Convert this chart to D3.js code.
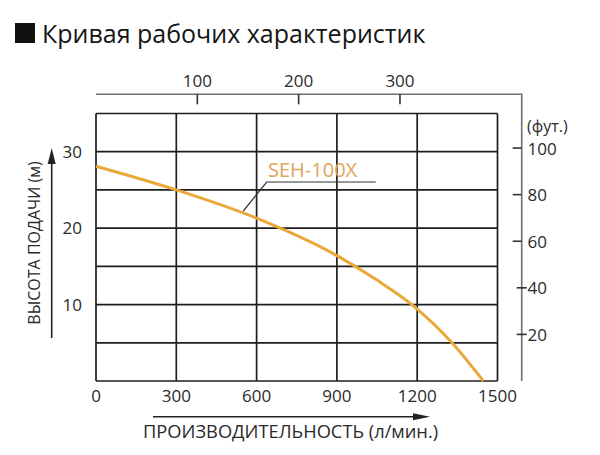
<!DOCTYPE html>
<html>
<head>
<meta charset="utf-8">
<script src="https://cdn.jsdelivr.net/npm/d3@7"></script>
<style>
  html, body { margin: 0; padding: 0; background: #fff; }
  svg text { font-family: "Open Sans", "Noto Sans", sans-serif; fill: #2a2a2a; }
</style>
</head>
<body>
<svg id="chart" width="600" height="455"></svg>
<script>
// curve data: flow (l/min) -> head (m)
const flow = [0, 300, 600, 900, 1050, 1180, 1330, 1447]
const head = [28.1, 25, 21.3, 16.4, 13.2, 10, 5, 0]
const seriesName = "SEH-100X"

const flowTicks = [0, 300, 600, 900, 1200, 1500]
const headTicks = [10, 20, 30]
const gpmTicks = [100, 200, 300]
const ftTicks = [20, 40, 60, 80, 100]

const svg = d3.select("#chart")

let x = d3.scaleLinear().domain([0, 1500]).range([96, 497.5])
let y = d3.scaleLinear().domain([0, 35]).range([381, 113.5])
let gpm = g => x(g * 3.7854)
let ft = f => y(f / 3.2808)

// title
svg.append("rect").attr("x", 15).attr("y", 23).attr("width", 20).attr("height", 20).attr("fill", "#111")
svg.append("text").attr("x", 42).attr("y", 43)
    .style("font-size", "25px").style("fill", "#151515")
    .text("Кривая рабочих характеристик")

// grid
let grid = svg.append("g").attr("stroke", "#1e1e1e").attr("stroke-width", 1.7)
grid.selectAll(".v").data(d3.range(0, 1501, 300)).enter().append("line")
    .attr("x1", d => x(d)).attr("x2", d => x(d))
    .attr("y1", y(35)).attr("y2", y(0))
grid.selectAll(".h").data(d3.range(0, 36, 5)).enter().append("line")
    .attr("x1", x(0)).attr("x2", x(1500))
    .attr("y1", d => y(d)).attr("y2", d => y(d))

// secondary axes (gpm on top, feet on right) as a bracket
let axisColor = "#6e6e6e"
let topY = 94.3, rightX = 521.7
svg.append("path")
    .attr("d", "M" + x(0) + "," + topY + "H" + rightX + "V" + y(0))
    .attr("fill", "none").attr("stroke", axisColor).attr("stroke-width", 1.6)

svg.selectAll(".gt").data(gpmTicks).enter().append("line")
    .attr("x1", d => gpm(d)).attr("x2", d => gpm(d))
    .attr("y1", topY).attr("y2", topY + 10)
    .attr("stroke", "#333").attr("stroke-width", 1.6)
svg.selectAll(".gl").data(gpmTicks).enter().append("text")
    .attr("x", d => gpm(d)).attr("y", 87)
    .attr("text-anchor", "middle").style("font-size", "17px")
    .text(d => d)

svg.selectAll(".ft").data(ftTicks).enter().append("line")
    .attr("x1", d => d < 50 ? rightX - 5 : rightX - 9)
    .attr("x2", d => d < 50 ? rightX + 5 : rightX)
    .attr("y1", d => ft(d)).attr("y2", d => ft(d))
    .attr("stroke", "#333").attr("stroke-width", 1.6)
svg.selectAll(".fl").data(ftTicks).enter().append("text")
    .attr("x", 527.5).attr("y", d => ft(d) + 6.5)
    .style("font-size", "17px")
    .text(d => d)
svg.append("text").attr("x", 527).attr("y", 131.5)
    .style("font-size", "16px").text("(фут.)")

// primary tick labels
svg.selectAll(".xl").data(flowTicks).enter().append("text")
    .attr("x", d => x(d)).attr("y", 401.5)
    .attr("text-anchor", "middle").style("font-size", "17px")
    .text(d => d)
svg.selectAll(".yl").data(headTicks).enter().append("text")
    .attr("x", 82).attr("y", d => y(d) + 6)
    .attr("text-anchor", "end").style("font-size", "17px")
    .text(d => d)

// axis titles with arrows
svg.append("line").attr("x1", 153).attr("x2", 415).attr("y1", 416.7).attr("y2", 416.7)
    .attr("stroke", "#222").attr("stroke-width", 1.6)
svg.append("path").attr("d", "M430,416.7L413,413.2L413,420.2Z").attr("fill", "#222")
svg.append("text").attr("x", 143).attr("y", 437.5)
    .style("font-size", "18.3px")
    .text("ПРОИЗВОДИТЕЛЬНОСТЬ (л/мин.)")

svg.append("line").attr("x1", 51.7).attr("x2", 51.7).attr("y1", 338).attr("y2", 162)
    .attr("stroke", "#222").attr("stroke-width", 1.6)
svg.append("path").attr("d", "M51.7,148L47.7,164L55.7,164Z").attr("fill", "#222")
svg.append("text")
    .attr("transform", "translate(40,243) rotate(-90)")
    .attr("text-anchor", "middle").style("font-size", "16px")
    .text("ВЫСОТА ПОДАЧИ (м)")

// performance curve
let pts = flow.map((f, i) => [f, head[i]])
let line = d3.line().x(d => x(d[0])).y(d => y(d[1])).curve(d3.curveMonotoneX)
svg.append("path").datum(pts)
    .attr("d", line)
    .attr("fill", "none").attr("stroke", "#eaa83a").attr("stroke-width", 3)

// label with leader
svg.append("path").attr("d", "M243.3,211L266.7,182H375.7")
    .attr("fill", "none").attr("stroke", "#333").attr("stroke-width", 1.2)
svg.append("text").attr("x", 268).attr("y", 176.5)
    .style("font-size", "20px").style("fill", "#e0a458")
    .text(seriesName)
</script>
</body>
</html>
